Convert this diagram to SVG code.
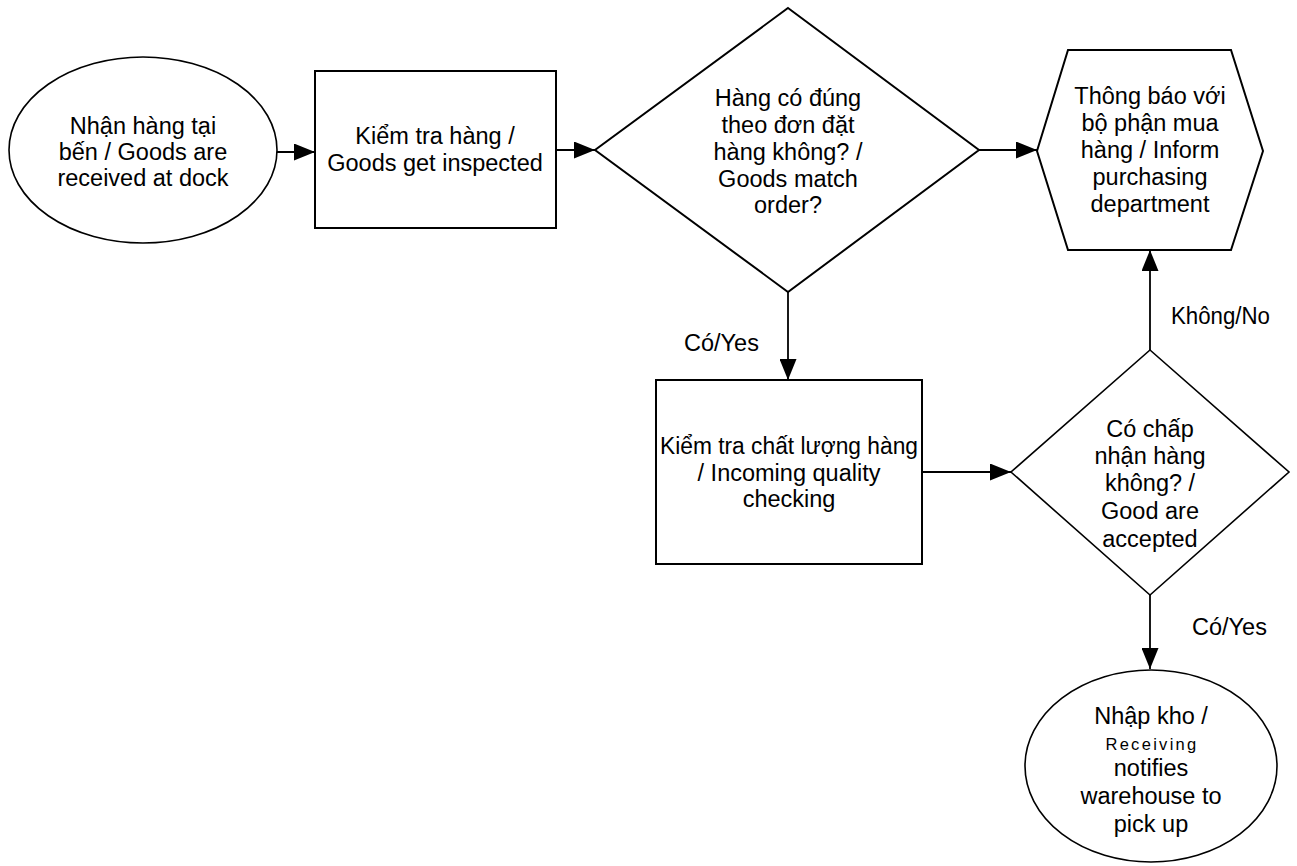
<svg xmlns="http://www.w3.org/2000/svg" width="1297" height="866" viewBox="0 0 1297 866">
  <style>
    .shape { fill: #ffffff; stroke: #000000; stroke-width: 2; }
    .oval { fill: #ffffff; stroke: #000000; stroke-width: 1.6; }
    .edge { fill: none; stroke: #000000; stroke-width: 1.8; marker-end: url(#arrow); }
    text { font-family: "Liberation Sans", Arial, sans-serif; font-size: 23.5px; fill: #000000; text-anchor: middle; }
    .small { font-size: 16.5px; letter-spacing: 2.3px; }
    .label { text-anchor: start; }
  </style>
  <defs>
    <marker id="arrow" markerUnits="userSpaceOnUse" markerWidth="21" markerHeight="17" refX="21" refY="8.5" orient="auto">
      <path d="M0,0 L21,8.5 L0,17 Z" fill="#000000"/>
    </marker>
  </defs>

  <rect width="1297" height="866" fill="#ffffff"/>

  <!-- connectors -->
  <g id="connectors">
    <line class="edge" x1="277" y1="152" x2="315" y2="152"/>
    <line class="edge" x1="556" y1="150" x2="595" y2="150"/>
    <line class="edge" x1="979" y1="150" x2="1037" y2="150"/>
    <line class="edge" x1="788" y1="292" x2="788" y2="380"/>
    <line class="edge" x1="922" y1="472" x2="1011" y2="472"/>
    <line class="edge" x1="1150" y1="350" x2="1150" y2="250"/>
    <line class="edge" x1="1150" y1="595" x2="1150" y2="669"/>
    <text class="label" x="684" y="351">Có/Yes</text>
    <text class="label" x="1171" y="324" textLength="99" lengthAdjust="spacingAndGlyphs">Không/No</text>
    <text class="label" x="1192" y="635">Có/Yes</text>
  </g>

  <!-- start: goods arrive at the dock -->
  <g id="node-receive">
    <ellipse class="oval" cx="143" cy="150" rx="134" ry="93"/>
    <text x="143" y="134">Nhận hàng tại</text>
    <text x="143" y="160">bến / Goods are</text>
    <text x="143" y="186">received at dock</text>
  </g>

  <g id="node-inspect">
    <rect class="shape" x="315" y="71" width="241" height="157"/>
    <text x="435" y="144">Kiểm tra hàng /</text>
    <text x="435" y="171">Goods get inspected</text>
  </g>

  <g id="node-match">
    <polygon class="shape" points="788,8 979,150 788,292 595,150"/>
    <text x="788" y="106">Hàng có đúng</text>
    <text x="788" y="133">theo đơn đặt</text>
    <text x="788" y="160">hàng không? /</text>
    <text x="788" y="187">Goods match</text>
    <text x="788" y="213">order?</text>
  </g>

  <g id="node-inform">
    <polygon class="shape" points="1068,50 1231,50 1263,151 1231,250 1068,250 1037,151"/>
    <text x="1150" y="104">Thông báo với</text>
    <text x="1150" y="131">bộ phận mua</text>
    <text x="1150" y="158">hàng / Inform</text>
    <text x="1150" y="185">purchasing</text>
    <text x="1150" y="212">department</text>
  </g>

  <g id="node-quality">
    <rect class="shape" x="656" y="380" width="266" height="184"/>
    <text x="789" y="454" textLength="258" lengthAdjust="spacingAndGlyphs">Kiểm tra chất lượng hàng</text>
    <text x="789" y="481">/ Incoming quality</text>
    <text x="789" y="507">checking</text>
  </g>

  <g id="node-accept">
    <polygon class="oval" points="1150,350 1289,472 1150,595 1011,472"/>
    <text x="1150" y="437">Có chấp</text>
    <text x="1150" y="464">nhận hàng</text>
    <text x="1150" y="491">không? /</text>
    <text x="1150" y="519">Good are</text>
    <text x="1150" y="547">accepted</text>
  </g>

  <!-- end: stock is booked into the warehouse -->
  <g id="node-stock">
    <ellipse class="oval" cx="1151" cy="766" rx="126" ry="96"/>
    <text x="1151" y="724">Nhập kho /</text>
    <text class="small" x="1152" y="750">Receiving</text>
    <text x="1151" y="776">notifies</text>
    <text x="1151" y="804">warehouse to</text>
    <text x="1151" y="832">pick up</text>
  </g>
</svg>
